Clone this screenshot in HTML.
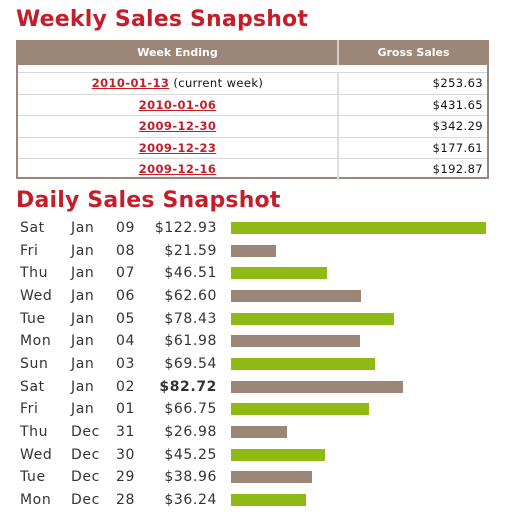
<!DOCTYPE html>
<html><head><meta charset="utf-8"><style>
body{margin:0;width:512px;height:512px;background:#fff;position:relative;overflow:hidden;font-family:"DejaVu Sans","Liberation Sans",sans-serif}
.title{position:absolute;left:16px;color:#c41e2b;font-weight:bold;font-size:22px;letter-spacing:0.2px;white-space:nowrap;line-height:26px}
#tbl{position:absolute;left:16px;top:40px;width:469px;height:137px;border:2px solid #9c8677;border-top:none}
#hdr{position:absolute;left:0;top:0;width:469px;height:25px;background:#9c8677;color:#fff;font-weight:bold;font-size:11px}
.row{position:absolute;left:0;width:469px;height:21px;border-top:1px solid #d8d8d8;font-size:11.5px;line-height:21px;letter-spacing:0.4px;color:#111}
.c1{position:absolute;left:0;width:319px;text-align:center}
.c2{position:absolute;left:320px;width:145px;text-align:right}
.sep{position:absolute;left:319px;top:0;width:2px;height:100%;background:#ddd}
a{color:#c41e2b;font-weight:bold;text-decoration:underline}
.d{position:absolute;font-size:14px;color:#333;height:20px;line-height:20px;white-space:nowrap;letter-spacing:0.6px}
.bar{position:absolute;height:12px}
</style></head><body>
<div class="title" style="top:7px">Weekly Sales Snapshot</div>
<div id="tbl">
<div id="hdr">
<div class="c1" style="line-height:25px">Week Ending</div>
<div class="sep" style="background:#d8ccc4"></div>
<div class="c2" style="line-height:25px;text-align:center;left:322px;width:147px">Gross Sales</div>
</div>
<div id="rows"></div>
</div>
<div class="title" style="top:188px">Daily Sales Snapshot</div>
<div id="daily"></div>
<script>
const weeks=["2010-01-13","2010-01-06","2009-12-30","2009-12-23","2009-12-16"];
const weekSales=["$253.63","$431.65","$342.29","$177.61","$192.87"];
const days=["Sat","Fri","Thu","Wed","Tue","Mon","Sun","Sat","Fri","Thu","Wed","Tue","Mon"];
const months=["Jan","Jan","Jan","Jan","Jan","Jan","Jan","Jan","Jan","Dec","Dec","Dec","Dec"];
const dates=["09","08","07","06","05","04","03","02","01","31","30","29","28"];
const values=[122.93,21.59,46.51,62.60,78.43,61.98,69.54,82.72,66.75,26.98,45.25,38.96,36.24];
const boldIndex=7;
const rows=document.getElementById('rows');
weeks.forEach((w,i)=>{
 const r=document.createElement('div');r.className='row';
 
 
 r.style.top=(32+i*21.6)+'px';
 r.innerHTML='<div class="sep"></div><div class="c1"><a href="#">'+w+'</a>'+(i==0?' (current week)':'')+'</div><div class="c2">'+weekSales[i]+'</div>';
 rows.appendChild(r);
});
const daily=document.getElementById('daily');
const x0=231,scale=255/122.93,y0=218,dy=22.67;
const xs=v=>v*scale, ys=i=>y0+i*dy;
days.forEach((d,i)=>{
 const y=ys(i);
 const mk=(txt,left,w,align,extra)=>{const e=document.createElement('div');e.className='d';e.textContent=txt;e.style.top=y+'px';e.style.left=left+'px';if(w){e.style.width=w+'px';e.style.textAlign=align;}if(extra)e.style.fontWeight='bold';daily.appendChild(e);return e;};
 const a=mk(d,20);
 
 
 const b=mk(months[i],71);
 
 
 const c=mk(dates[i],116);
 
 
 const v=mk('$'+values[i].toFixed(2),130,87,'right',i===boldIndex);
 
 
 const bar=document.createElement('div');bar.className='bar';
 
 
 bar.style.left=x0+'px';bar.style.top=(y+4)+'px';bar.style.width=xs(values[i])+'px';
 bar.style.background=i%2===0?'#8fba14':'#9c8677';
 daily.appendChild(bar);
});
</script>
</body></html>
